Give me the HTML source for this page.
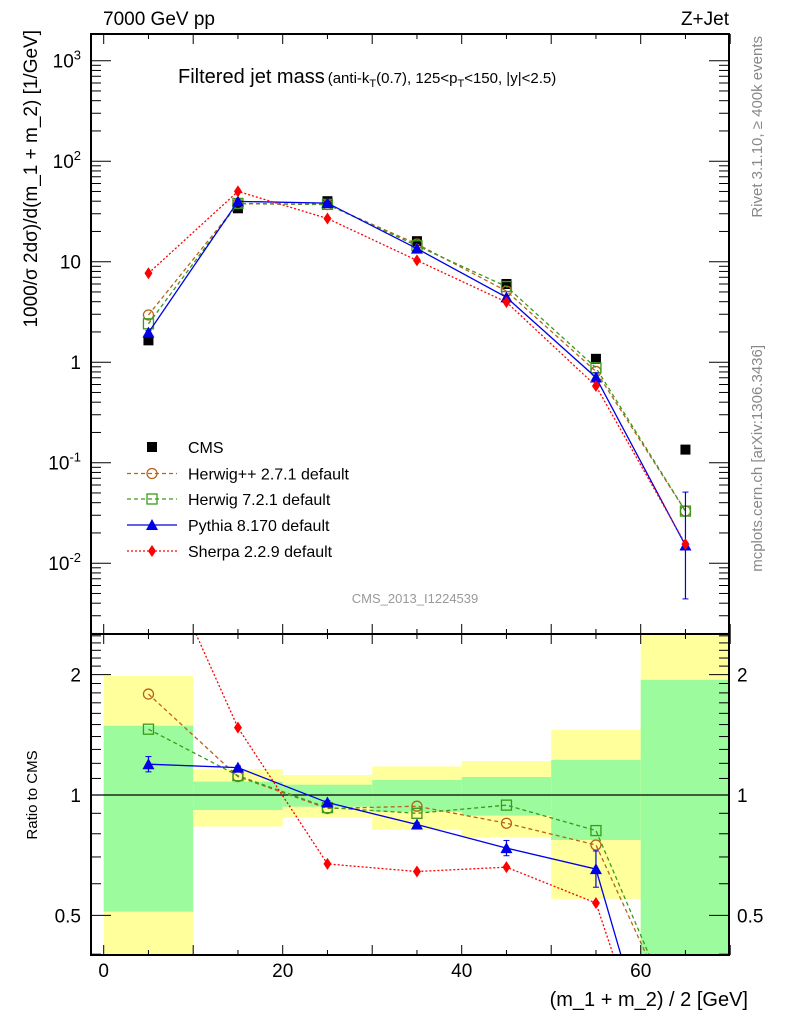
<!DOCTYPE html>
<html><head><meta charset="utf-8"><style>
html,body{margin:0;padding:0;background:#fff;width:786px;height:1024px;overflow:hidden}
svg{display:block;font-family:"Liberation Sans",sans-serif}
</style></head><body>
<svg id="c" width="786" height="1024" viewBox="0 0 786 1024" xmlns="http://www.w3.org/2000/svg"></svg>
<script>
const binLo=[0,10,20,30,40,50,60];
const binHi=[10,20,30,40,50,60,70];
const xCenters=[5,15,25,35,45,55,65];
const cmsVals=[1.65,34,40,16,6,1.08,0.135];
const herwigppVals=[2.95,37.8,37.0,15.0,5.1,0.81,0.033];
const herwig7Vals=[2.41,38.0,37.2,14.4,5.66,0.88,0.033];
const pythiaVals=[1.97,39.8,38.3,13.5,4.42,0.705,0.015];
const pythiaErrFac=[1.045,1.01,1.01,1.01,1.045,1.11,3.4];
const sherpaVals=[7.67,50.1,26.9,10.3,3.96,0.58,0.0155];
const yellowHi=[1.985,1.16,1.122,1.179,1.216,1.456,3.0];
const yellowLo=[0.2,0.834,0.878,0.818,0.785,0.55,0.2];
const greenHi=[1.49,1.08,1.061,1.09,1.109,1.224,1.94];
const greenLo=[0.511,0.917,0.935,0.908,0.888,0.772,0.2];

const NS="http://www.w3.org/2000/svg";
const svg=document.getElementById('c');
function el(t,a,p){const e=document.createElementNS(NS,t);for(const k in a)e.setAttribute(k,a[k]);(p||svg).appendChild(e);return e;}
const L=91,R=729,T=34,MB=634,RB=955;
const X=v=>103.7+v*8.95;
const Y=v=>362.2-Math.log10(v)*100.5;
const YR=v=>795-Math.log10(v)*400;
const clipM=el('clipPath',{id:'cm'});el('rect',{x:L,y:T,width:R-L,height:MB-T},clipM);
const clipR=el('clipPath',{id:'cr'});el('rect',{x:L,y:MB,width:R-L,height:RB-MB},clipR);

const gR=el('g',{'clip-path':'url(#cr)'});

for(let i=0;i<binLo.length;i++){
 const y=el('rect',{x:X(binLo[i]),y:YR(yellowHi[i]),width:X(binHi[i])-X(binLo[i]),height:YR(yellowLo[i])-YR(yellowHi[i]),fill:'#ffff9c'},gR);
 
 
 const g=el('rect',{x:X(binLo[i]),y:YR(greenHi[i]),width:X(binHi[i])-X(binLo[i]),height:YR(greenLo[i])-YR(greenHi[i]),fill:'#9cfb9c'},gR);
 
 
}
el('line',{x1:L,x2:R,y1:YR(1),y2:YR(1),stroke:'#000','stroke-width':1.2},gR);

const gM=el('g',{'clip-path':'url(#cm)'});


const series=[
 {name:'herwigpp',vals:herwigppVals,color:'#b8631a',dash:'4,3',marker:'circle'},
 {name:'herwig7',vals:herwig7Vals,color:'#3a9a1a',dash:'4,3',marker:'square'},
 {name:'pythia',vals:pythiaVals,color:'#0000e6',dash:'',marker:'tri',err:pythiaErrFac},
 {name:'sherpa',vals:sherpaVals,color:'#f00',dash:'2,2',marker:'diamond'}
];
function marker(kind,x,y,c,g){
 let m;
 if(kind==='circle')m=el('circle',{cx:x,cy:y,r:5,fill:'none',stroke:c,'stroke-width':1.3},g);
 else if(kind==='square')m=el('rect',{x:x-5,y:y-5,width:10,height:10,fill:'none',stroke:c,'stroke-width':1.3},g);
 else if(kind==='tri')m=el('path',{d:`M${x},${y-6}L${x+6},${y+5}L${x-6},${y+5}Z`,fill:c},g);
 else if(kind==='diamond')m=el('path',{d:`M${x},${y-6}L${x+4},${y}L${x},${y+6}L${x-4},${y}Z`,fill:c},g);
 else m=el('rect',{x:x-5,y:y-5,width:10,height:10,fill:c},g);
 return m;
}
function drawSeries(s,g,ymap,ratio){
 const vals=s.vals.map((v,i)=>ratio?v/cmsVals[i]:v);
 const pts=vals.map((v,i)=>X(xCenters[i])+','+ymap(v)).join(' ');
 const pl=el('polyline',{points:pts,fill:'none',stroke:s.color,'stroke-width':1.3,'stroke-dasharray':s.dash},g);
 
 
 vals.forEach((v,i)=>{
  const x=X(xCenters[i]);
  if(s.err){const f=s.err[i];el('line',{x1:x,x2:x,y1:ymap(v*f),y2:ymap(v/f),stroke:s.color,'stroke-width':1.2},g);
   el('line',{x1:x-3,x2:x+3,y1:ymap(v*f),y2:ymap(v*f),stroke:s.color},g);el('line',{x1:x-3,x2:x+3,y1:ymap(v/f),y2:ymap(v/f),stroke:s.color},g);}
  const m=marker(s.marker,x,ymap(v),s.color,g);
  
  
 });
}
cmsVals.forEach((v,i)=>{const m=marker('sq',X(xCenters[i]),Y(v),'#000',gM);
 
 });
series.forEach(s=>{drawSeries(s,gM,Y,false);drawSeries(s,gR,YR,true);});

el('rect',{x:L,y:T,width:R-L,height:MB-T,fill:'none',stroke:'#000','stroke-width':2});
el('rect',{x:L,y:MB,width:R-L,height:RB-MB,fill:'none',stroke:'#000','stroke-width':2});
for(let v=0;v<=70;v+=5){const x=X(v),len=v%10===0?10:5;
 [[T,1],[MB,-1],[MB,1],[RB,-1]].forEach(([y,d])=>el('line',{x1:x,x2:x,y1:y,y2:y+d*len,stroke:'#000','stroke-width':1}));}
[0,20,40,60].forEach(v=>{const t=el('text',{x:X(v),y:977,'font-size':19,'text-anchor':'middle'});t.textContent=v;
 });
for(let d=-3;d<=3;d++)for(let k=1;k<10;k++){const v=k*Math.pow(10,d),y=Y(v);if(y<T||y>MB)continue;const len=k===1?20:10;
 el('line',{x1:L,x2:L+len,y1:y,y2:y,stroke:'#000'});el('line',{x1:R,x2:R-len,y1:y,y2:y,stroke:'#000'});}
[[1,'1'],[10,'10']].forEach(([v,s])=>{const t=el('text',{x:81,y:Y(v)+7,'font-size':19,'text-anchor':'end'});t.textContent=s;
 });
[[-2,1e-2],[-1,1e-1],[2,1e2],[3,1e3]].forEach(([e,v])=>{const t=el('text',{x:81,y:Y(v)+7,'font-size':19,'text-anchor':'end'});
 t.innerHTML='10<tspan dy="-8" font-size="13">'+e+'</tspan>';
 });
for(let k=4;k<=25;k++){const v=k/10,y=YR(v);if(y<MB||y>RB)continue;const len=(v===0.5||v===1||v===2)?20:10;
 el('line',{x1:L,x2:L+len,y1:y,y2:y,stroke:'#000'});el('line',{x1:R,x2:R-len,y1:y,y2:y,stroke:'#000'});}
[[2,'2'],[1,'1'],[0.5,'0.5']].forEach(([v,s])=>{
 const a=el('text',{x:81,y:YR(v)+7,'font-size':19,'text-anchor':'end'});a.textContent=s;
 
 const b=el('text',{x:737,y:YR(v)+7,'font-size':19});b.textContent=s;
 });
function txt(x,y,s,attrs,name){const t=el('text',Object.assign({x,y},attrs));t.innerHTML=s;return t;}
txt(103,25,'7000 GeV pp',{'font-size':19},'energy-label');
txt(729,25,'Z+Jet',{'font-size':19,'text-anchor':'end'},'process-label');
txt(178,83,'Filtered jet mass<tspan font-size="15" dx="3">(anti-k</tspan><tspan font-size="11" dy="4">T</tspan><tspan font-size="15" dy="-4">(0.7), 125&lt;p</tspan><tspan font-size="11" dy="4">T</tspan><tspan font-size="15" dy="-4">&lt;150, |y|&lt;2.5)</tspan>',{'font-size':20},'plot-title');
txt(415,603,'CMS_2013_I1224539',{'font-size':13,fill:'#999','text-anchor':'middle'},'analysis-id');
txt(0,0,'1000/σ 2dσ)/d(m_1 + m_2) [1/GeV]',{'font-size':19,'text-anchor':'end',transform:'translate(37,30) rotate(-90)'},'y-axis-title');
txt(0,0,'Ratio to CMS',{'font-size':15,'text-anchor':'middle',transform:'translate(37,795) rotate(-90)'},'ratio-axis-title');
txt(748,1006,'(m_1 + m_2) / 2 [GeV]',{'font-size':20,'text-anchor':'end'},'x-axis-title');
txt(0,0,'Rivet 3.1.10, ≥ 400k events',{'font-size':15,fill:'#888','text-anchor':'end',transform:'translate(762,36) rotate(-90)'},'rivet-label');
txt(0,0,'mcplots.cern.ch [arXiv:1306.3436]',{'font-size':15,fill:'#888','text-anchor':'end',transform:'translate(762,345) rotate(-90)'},'mcplots-label');
const legNames=['CMS','Herwig++ 2.7.1 default','Herwig 7.2.1 default','Pythia 8.170 default','Sherpa 2.2.9 default'];
const legY=[447,473.5,499,525,551];
const lg=el('g',{});
legNames.forEach((n,i)=>{
 const y=legY[i];
 if(i>0){const s=series[i-1];el('line',{x1:127,x2:177,y1:y,y2:y,stroke:s.color,'stroke-width':1.3,'stroke-dasharray':s.dash},lg);marker(s.marker,152,y,s.color,lg);}
 else marker('sq',152,y,'#000',lg);
 const t=el('text',{x:188,y:y+6,'font-size':16},lg);t.textContent=n;
 
 
});
</script>
</body></html>
